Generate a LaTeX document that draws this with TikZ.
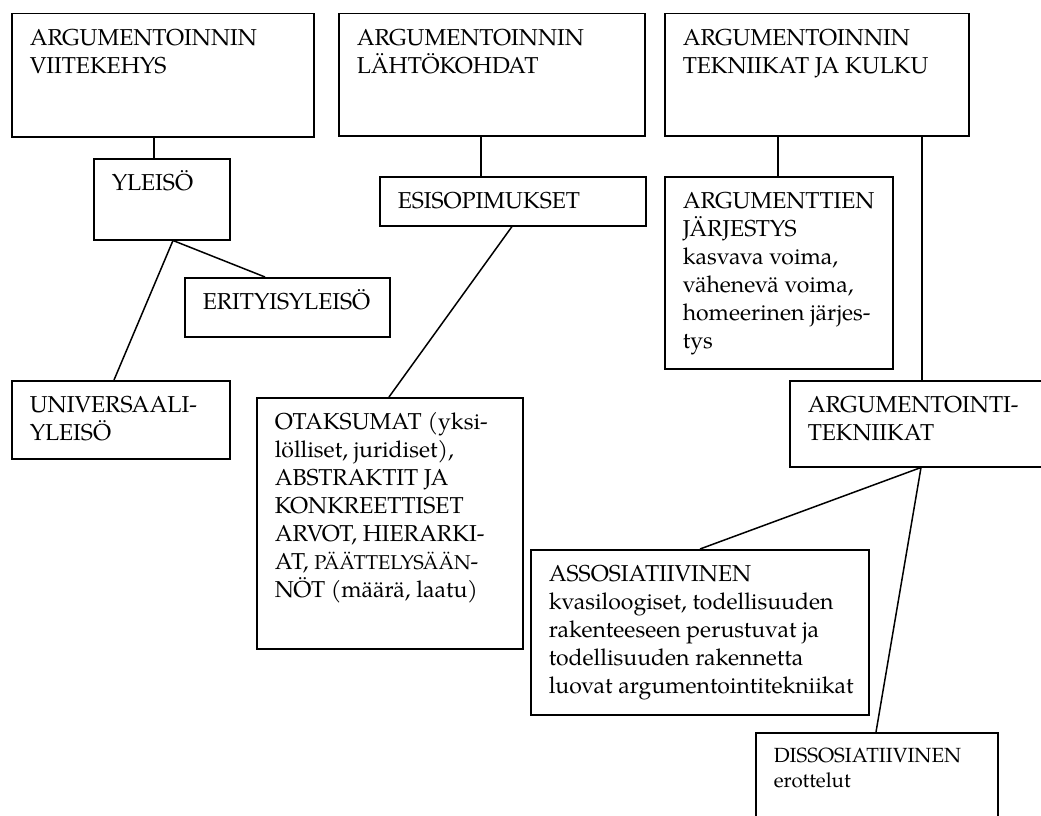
\documentclass[tikz,border=0pt]{standalone}
\usepackage{fontspec}
\setmainfont{TeX Gyre Pagella}
\usetikzlibrary{calc}

% text block at the top of a box: height, width, text
\newcommand{\boxtext}[3]{\begin{minipage}[t][#1][t]{#2}\begin{tabular}[t]{@{}l@{}}#3\end{tabular}\end{minipage}}

\tikzset{
    box/.style={draw, line width=1.5pt, anchor=north west, inner xsep=18pt, inner ysep=12pt,
        font=\fontsize{23}{28}\selectfont},
    smallbox/.style={box, font=\fontsize{20.5}{25}\selectfont},
    link/.style={line width=1.5pt}
}

\begin{document}
\begin{tikzpicture}[x=1pt, y=-1pt]
    \useasboundingbox (0,0) rectangle (1041,816);
    \clip (0,0) rectangle (1041,816);

    % Top row
    \node[box] (viite) at (11,13) {\boxtext{99pt}{266pt}{ARGUMENTOINNIN\\VIITEKEHYS}};
    \node[box] (lahto) at (338,13) {\boxtext{98pt}{270pt}{ARGUMENTOINNIN\\LÄHTÖKOHDAT}};
    \node[box] (kulku) at (664,13) {\boxtext{98pt}{268pt}{ARGUMENTOINNIN\\TEKNIIKAT JA KULKU}};

    % Viitekehys
    \node[box] (yleiso) at (93,158) {\boxtext{57pt}{100pt}{YLEISÖ}};
    \node[box] (erity) at (184,277) {\boxtext{35pt}{169pt}{ERITYISYLEISÖ}};
    \node[box] (univ) at (11,380) {\boxtext{54pt}{182pt}{UNIVERSAALI-\\YLEISÖ}};

    \draw[link] ([xshift=61pt]yleiso.north west) -- ([xshift=61pt]yleiso.north west |- viite.south);
    \draw[link] ([xshift=80pt]yleiso.south west) -- ([xshift=81pt]erity.north west);
    \draw[link] ([xshift=80pt]yleiso.south west) -- ([xshift=103pt]univ.north west);

    % Lahtokohdat
    \node[box] (esiso) at (379,176) {\boxtext{25pt}{230pt}{ESISOPIMUKSET}};
    \node[box] (otak) at (256,397) {\boxtext{227pt}{230pt}{OTAKSUMAT (yksi-\\lölliset, juridiset),\\ABSTRAKTIT JA\\KONKREETTISET\\ARVOT, HIERARKI-\\AT, {\fontsize{20}{28}\selectfont PÄÄTTELYSÄÄN}-\\NÖT (määrä, laatu)}};

    \draw[link] ([xshift=102pt]esiso.north west) -- ([xshift=102pt]esiso.north west |- lahto.south);
    \draw[link] ([xshift=133pt]esiso.south west) -- ([xshift=133pt]otak.north west);

    % Tekniikat ja kulku
    \node[box] (jarj) at (664,176) {\boxtext{168pt}{192pt}{ARGUMENTTIEN\\JÄRJESTYS\\kasvava voima,\\vähenevä voima,\\homeerinen järjes-\\tys}};
    \node[box] (argtek) at (789,380) {\boxtext{62pt}{250pt}{ARGUMENTOINTI-\\TEKNIIKAT}};
    \node[box] (assos) at (530,549) {\boxtext{141pt}{302pt}{ASSOSIATIIVINEN\\kvasiloogiset, todellisuuden\\rakenteeseen perustuvat ja\\todellisuuden rakennetta\\luovat argumentointitekniikat}};
    \node[smallbox] (dissos) at (755,732) {\boxtext{80pt}{206pt}{DISSOSIATIIVINEN\\erottelut}};

    \draw[link] ([xshift=114pt]jarj.north west) -- ([xshift=114pt]jarj.north west |- kulku.south);
    \draw[link] ([xshift=133pt]argtek.north west) -- ([xshift=133pt]argtek.north west |- kulku.south);
    \draw[link] ([xshift=132pt]argtek.south west) -- ([xshift=170pt]assos.north west);
    \draw[link] ([xshift=132pt]argtek.south west) -- ([xshift=121pt]dissos.north west);
\end{tikzpicture}
\end{document}
